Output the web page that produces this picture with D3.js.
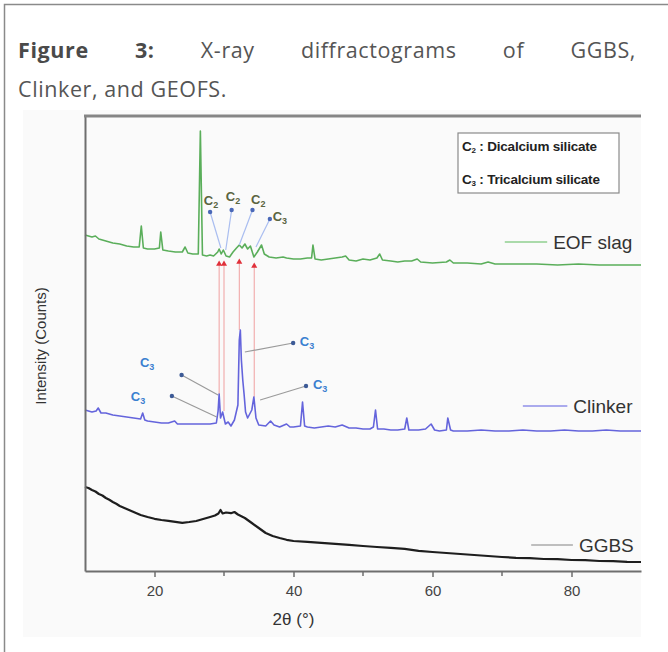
<!DOCTYPE html>
<html>
<head>
<meta charset="utf-8">
<script src="https://cdn.jsdelivr.net/npm/d3@7"></script>
<style>
  body { margin: 0; background: #fff; }
  svg { display: block; }
</style>
</head>
<body>
<div id="chart"></div>
<script>
// ---- data: [2theta (deg), intensity (a.u.)] ----
var ggbs = [
  [10, 840], [10.5, 830], [11, 810], [11.5, 795], [12, 770], [12.5, 755], [13, 730], [13.5, 712],
  [14, 690], [14.5, 672], [15, 650], [16, 620], [17, 590], [18, 560], [19, 540], [20, 522],
  [21, 510], [22, 502], [23, 492], [24, 482], [25, 490], [26, 500], [27, 520], [28, 540],
  [28.7, 555], [29.2, 575], [29.5, 610], [29.8, 575], [30.3, 585], [31, 578], [31.5, 590],
  [32, 565], [33, 530], [34, 480], [35, 430], [36, 380], [37, 350], [38, 330], [39, 312],
  [40, 300], [42, 292], [44, 282], [46, 272], [48, 262], [50, 250], [52, 240], [54, 232],
  [56, 222], [58, 202], [60, 190], [62, 180], [64, 170], [66, 160], [68, 150], [70, 140],
  [72, 132], [74, 128], [76, 120], [78, 118], [80, 110], [82, 108], [84, 100], [86, 98],
  [88, 92], [90, 90]
];

var clinker = [
  [10, 1610], [11, 1590], [11.6, 1600], [11.9, 1630], [12.3, 1580], [13, 1580], [14, 1560],
  [15, 1550], [16, 1540], [17, 1530], [18, 1520], [18.3, 1580], [18.6, 1510], [19, 1500],
  [20, 1490], [21, 1480], [22, 1480], [22.9, 1500], [23.3, 1470], [24, 1470], [25, 1470],
  [26, 1470], [27, 1470], [28, 1470], [28.9, 1480], [29.15, 1600], [29.3, 1770], [29.5, 1530],
  [29.8, 1590], [30.2, 1470], [30.6, 1490], [31, 1450], [31.5, 1510], [32, 1660], [32.2, 2310],
  [32.35, 2410], [32.5, 2110], [32.7, 1910], [32.9, 1760], [33.1, 1590], [33.4, 1530],
  [33.7, 1570], [34, 1610], [34.3, 1740], [34.6, 1530], [35, 1460], [36, 1450], [36.7, 1500],
  [37.2, 1460], [38, 1440], [39, 1470], [39.5, 1440], [40, 1440], [41, 1450], [41.3, 1690],
  [41.6, 1450], [42, 1440], [43, 1430], [44, 1440], [45, 1450], [46, 1440], [47, 1460],
  [48, 1430], [49, 1430], [50, 1420], [51, 1420], [51.5, 1440], [51.8, 1610], [52.1, 1420],
  [53, 1420], [54, 1410], [55, 1410], [56, 1420], [56.3, 1530], [56.6, 1410], [57, 1410],
  [58, 1410], [59, 1420], [59.8, 1470], [60.3, 1410], [61, 1400], [62, 1410], [62.2, 1530],
  [62.6, 1410], [63, 1400], [65, 1400], [67, 1410], [69, 1400], [71, 1400], [73, 1410],
  [75, 1400], [77, 1400], [79, 1410], [81, 1400], [83, 1400], [85, 1410], [87, 1400], [90, 1400]
];

var eofSlag = [
  [10, 3360], [11, 3340], [11.5, 3350], [12, 3320], [13, 3300], [14, 3280], [15, 3270],
  [16, 3250], [17, 3240], [17.8, 3240], [18.1, 3450], [18.4, 3230], [19, 3220], [20, 3220],
  [20.7, 3230], [20.9, 3390], [21.2, 3210], [22, 3200], [23, 3190], [24, 3190], [24.4, 3240],
  [24.8, 3180], [25.5, 3170], [26.3, 3170], [26.6, 4400], [26.9, 3160], [27.5, 3150],
  [28, 3160], [28.5, 3150], [29.1, 3190], [29.3, 3220], [29.6, 3170], [29.9, 3210], [30.3, 3150],
  [30.8, 3140], [31.3, 3190], [31.8, 3230], [32.2, 3260], [32.6, 3230], [33, 3270], [33.4, 3220],
  [33.8, 3250], [34.3, 3140], [34.8, 3190], [35.4, 3260], [35.8, 3170], [36.5, 3140],
  [37.5, 3130], [38.5, 3140], [39, 3130], [40, 3120], [41, 3120], [42, 3130], [42.6, 3130],
  [42.8, 3260], [43.1, 3120], [44, 3110], [45, 3120], [46, 3130], [47, 3140], [47.5, 3150],
  [48, 3110], [49, 3100], [50, 3120], [51, 3110], [52, 3130], [52.4, 3170], [52.8, 3110],
  [54, 3100], [55, 3090], [56, 3100], [57, 3100], [57.8, 3120], [58.3, 3090], [60, 3080],
  [62, 3090], [62.5, 3110], [63, 3080], [65, 3080], [67, 3070], [68, 3090], [69, 3070],
  [72, 3070], [75, 3070], [78, 3060], [81, 3070], [84, 3060], [87, 3060], [90, 3060]
];

var xTicks = [20, 40, 60, 80];
var xMinorTicks = [30, 50, 70];

// phase labels on the EOF slag pattern: sub, dot, peak end, text anchor
var slagPhases = [
  { sub: "2", dot: [28.0, 3590], end: [29.55, 3230], text: [27.1, 3660] },
  { sub: "2", dot: [31.1, 3610], end: [30.25, 3210], text: [30.25, 3700] },
  { sub: "2", dot: [34.1, 3610], end: [32.2, 3260], text: [33.9, 3670] },
  { sub: "3", dot: [36.6, 3520], end: [34.6, 3240], text: [37.0, 3500] }
];

// phase labels on the clinker pattern
var clinkerPhases = [
  { sub: "3", dot: [23.9, 1960], end: [29.15, 1760], text: [17.9, 2040] },
  { sub: "3", dot: [22.5, 1750], end: [28.95, 1540], text: [16.6, 1700] },
  { sub: "3", dot: [39.95, 2280], end: [33.0, 2190], text: [40.9, 2250] },
  { sub: "3", dot: [41.8, 1850], end: [35.2, 1710], text: [42.8, 1820] }
];

// red markers linking clinker peaks to the slag pattern
var linkPeaks = [
  { pos: 29.3, from: 1770, to: 3080 },
  { pos: 30.0, from: 1600, to: 3080 },
  { pos: 32.2, from: 2410, to: 3100 },
  { pos: 34.35, from: 1740, to: 3060 }
];

var seriesLabels = [
  { name: "EOF slag", from: 70.4, to: 76.5, level: 3290, color: "#8fcf8f" },
  { name: "Clinker", from: 73.0, to: 79.4, level: 1650, color: "#8f8fe8" },
  { name: "GGBS", from: 74.2, to: 80.2, level: 260, color: "#aaaaaa" }
];

var legendRows = [
  { sub: "2", text: " : Dicalcium silicate" },
  { sub: "3", text: " : Tricalcium silicate" }
];

var titleLine1 = ["Figure", "3:", "X-ray", "diffractograms", "of", "GGBS,"];
var titleLine2 = "Clinker, and GEOFS.";

// ---- drawing ----
var W = 668, H = 652;
var plot = { left: 85, right: 641, top: 116, bottom: 571 };

var svg = d3.select("#chart")
  .append("svg")
  .attr("width", W)
  .attr("height", H);

// outer figure frame
svg.append("rect")
  .attr("x", 4.5).attr("y", 4.5)
  .attr("width", 720).attr("height", 720)
  .attr("fill", "#fff")
  .attr("stroke", "#8a8a8a")
  .attr("stroke-width", 1.5);

// caption, first line justified
var t1 = svg.append("g")
  .attr("font-family", "'Open Sans', sans-serif")
  .attr("font-size", 21.5)
  .attr("letter-spacing", 0.6)
  .attr("fill", "#555");

var words = t1.selectAll("text")
  .data(titleLine1)
  .join("text")
  .attr("y", 58)
  .attr("font-weight", function (d, i) { return i < 2 ? 700 : 400; })
  .attr("fill", function (d, i) { return i < 2 ? "#4a4a4a" : "#555"; })
  .text(function (d) { return d; });

var widths = [];
words.each(function () { widths.push(this.getComputedTextLength()); });
var gap = (636 - 18 - d3.sum(widths)) / (widths.length - 1);
var cx = 18;
words.attr("x", function (d, i) {
  var px = cx;
  cx += widths[i] + gap;
  return px;
});

t1.append("text")
  .attr("x", 18)
  .attr("y", 97)
  .text(titleLine2);

// faint panel behind the figure image
svg.append("rect")
  .attr("x", 23).attr("y", 110)
  .attr("width", 618).attr("height", 527)
  .attr("fill", "#fafafa");

var xScale = d3.scaleLinear().domain([10, 90]).range([plot.left, plot.right]);
var yScale = d3.scaleLinear().domain([0, 4550]).range([plot.bottom, plot.top]);

var line = d3.line()
  .x(function (d) { return xScale(d[0]); })
  .y(function (d) { return yScale(d[1]); });

// red link lines and markers
var links = svg.append("g");
links.selectAll("line")
  .data(linkPeaks)
  .join("line")
  .attr("x1", function (d) { return xScale(d.pos); })
  .attr("x2", function (d) { return xScale(d.pos); })
  .attr("y1", function (d) { return yScale(d.from); })
  .attr("y2", function (d) { return yScale(d.to); })
  .attr("stroke", "#f0a0a0")
  .attr("stroke-width", 1);

links.selectAll("path")
  .data(linkPeaks)
  .join("path")
  .attr("d", d3.symbol().type(d3.symbolTriangle).size(16))
  .attr("transform", function (d) {
    return "translate(" + xScale(d.pos) + "," + (yScale(d.to) + 1) + ")";
  })
  .attr("fill", "#e0303a");

// the three patterns
svg.append("path")
  .datum(ggbs)
  .attr("fill", "none")
  .attr("stroke", "#1e1e1e")
  .attr("stroke-width", 2.2)
  .attr("stroke-linejoin", "round")
  .attr("d", line);

svg.append("path")
  .datum(clinker)
  .attr("fill", "none")
  .attr("stroke", "#6464dc")
  .attr("stroke-width", 1.6)
  .attr("stroke-linejoin", "round")
  .attr("d", line);

svg.append("path")
  .datum(eofSlag)
  .attr("fill", "none")
  .attr("stroke", "#5aae5a")
  .attr("stroke-width", 1.6)
  .attr("stroke-linejoin", "round")
  .attr("d", line);

// phase annotations
function phaseLabels(data, lineColor, dotColor, textColor) {
  var g = svg.append("g");
  g.selectAll("line")
    .data(data)
    .join("line")
    .attr("x1", function (d) { return xScale(d.dot[0]); })
    .attr("y1", function (d) { return yScale(d.dot[1]); })
    .attr("x2", function (d) { return xScale(d.end[0]); })
    .attr("y2", function (d) { return yScale(d.end[1]); })
    .attr("stroke", lineColor)
    .attr("stroke-width", 1.2);
  g.selectAll("circle")
    .data(data)
    .join("circle")
    .attr("cx", function (d) { return xScale(d.dot[0]); })
    .attr("cy", function (d) { return yScale(d.dot[1]); })
    .attr("r", 2.2)
    .attr("fill", dotColor);
  var txt = g.selectAll("text")
    .data(data)
    .join("text")
    .attr("x", function (d) { return xScale(d.text[0]); })
    .attr("y", function (d) { return yScale(d.text[1]); })
    .attr("font-family", "'Liberation Sans', Arial, sans-serif")
    .attr("font-weight", 700)
    .attr("font-size", 13)
    .attr("fill", textColor)
    .text("C");
  txt.append("tspan")
    .attr("dy", 3)
    .attr("font-size", 9)
    .text(function (d) { return d.sub; });
}

phaseLabels(slagPhases, "#a9bdf0", "#4a68b8", "#5a6440");
phaseLabels(clinkerPhases, "#9a9a9a", "#3c5a96", "#3a80d0");

// axes
var xAxis = d3.axisBottom(xScale)
  .tickValues(xTicks)
  .tickSize(6)
  .tickSizeOuter(0)
  .tickPadding(8);

var gx = svg.append("g")
  .attr("class", "x axis")
  .attr("transform", "translate(0," + plot.bottom + ")")
  .call(xAxis);
gx.select(".domain").attr("stroke", "#6e6e6e").attr("stroke-width", 2);
gx.selectAll(".tick line").attr("stroke", "#6e6e6e").attr("stroke-width", 1.5);
gx.selectAll(".tick text")
  .attr("font-family", "'Liberation Sans', Arial, sans-serif")
  .attr("font-size", 15)
  .attr("fill", "#444");

svg.append("g")
  .attr("transform", "translate(0," + plot.bottom + ")")
  .selectAll("line")
  .data(xMinorTicks)
  .join("line")
  .attr("x1", function (d) { return xScale(d); })
  .attr("x2", function (d) { return xScale(d); })
  .attr("y1", 0)
  .attr("y2", 5)
  .attr("stroke", "#6e6e6e")
  .attr("stroke-width", 1.5);

var yAxis = d3.axisLeft(yScale).tickValues([]).tickSizeOuter(0);
var gy = svg.append("g")
  .attr("class", "y axis")
  .attr("transform", "translate(" + plot.left + ",0)")
  .call(yAxis);
gy.select(".domain").attr("stroke", "#6e6e6e").attr("stroke-width", 2);

// top frame
svg.append("line")
  .attr("x1", plot.left - 1).attr("x2", plot.right)
  .attr("y1", plot.top).attr("y2", plot.top)
  .attr("stroke", "#858585")
  .attr("stroke-width", 3);

// axis labels
svg.append("text")
  .attr("x", xScale(40))
  .attr("y", 625)
  .attr("text-anchor", "middle")
  .attr("font-family", "'Liberation Sans', Arial, sans-serif")
  .attr("font-size", 17)
  .attr("fill", "#333")
  .text("2\u03B8 (\u00B0)");

svg.append("text")
  .attr("transform", "rotate(-90)")
  .attr("x", -346)
  .attr("y", 46)
  .attr("text-anchor", "middle")
  .attr("font-family", "'Liberation Sans', Arial, sans-serif")
  .attr("font-size", 15)
  .attr("fill", "#333")
  .text("Intensity (Counts)");

// series labels
var sl = svg.append("g").selectAll("g")
  .data(seriesLabels)
  .join("g");
sl.append("line")
  .attr("x1", function (d) { return xScale(d.from); })
  .attr("x2", function (d) { return xScale(d.to); })
  .attr("y1", function (d) { return yScale(d.level); })
  .attr("y2", function (d) { return yScale(d.level); })
  .attr("stroke", function (d) { return d.color; })
  .attr("stroke-width", 1.5);
sl.append("text")
  .attr("x", function (d) { return xScale(d.to) + 6; })
  .attr("y", function (d) { return yScale(d.level) + 7; })
  .attr("font-family", "'Liberation Sans', Arial, sans-serif")
  .attr("font-size", 19)
  .attr("fill", "#333")
  .text(function (d) { return d.name; });

// legend box
var lg = svg.append("g").attr("transform", "translate(458,133)");
lg.append("rect")
  .attr("width", 161).attr("height", 60)
  .attr("fill", "#fff")
  .attr("stroke", "#8a8a8a")
  .attr("stroke-width", 1.2);
var lt = lg.selectAll("text")
  .data(legendRows)
  .join("text")
  .attr("x", 4)
  .attr("y", function (d, i) { return 18 + i * 33; })
  .attr("font-family", "'Liberation Sans', Arial, sans-serif")
  .attr("font-weight", 700)
  .attr("font-size", 13.5)
  .attr("letter-spacing", -0.2)
  .attr("fill", "#222")
  .text("C");
lt.append("tspan")
  .attr("dy", 2)
  .attr("font-size", 8)
  .text(function (d) { return d.sub; });
lt.append("tspan")
  .attr("dy", -2)
  .text(function (d) { return d.text; });
</script>
</body>
</html>
